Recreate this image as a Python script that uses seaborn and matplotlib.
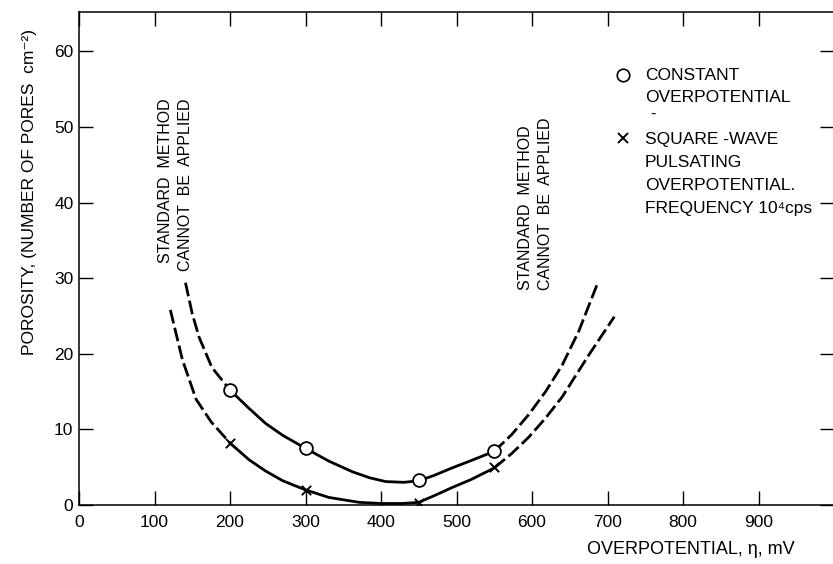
import matplotlib
matplotlib.use('Agg')
import matplotlib.pyplot as plt
import seaborn as sns
import pandas as pd

#########################
#         Data          #
#########################

# measured points
eta_points = [200, 300, 450, 550]
constant_points = [15.2, 7.6, 3.3, 7.1]
square_wave_points = [8.2, 2.0, 0.3, 5.0]

# constant overpotential curve (dashed / solid / dashed)
const_left_x = [141, 150, 159, 176, 200]
const_left_y = [29.4, 25.3, 22.2, 18.2, 15.2]
const_mid_x = [200, 225, 247, 270, 300, 331, 362, 385, 406, 430, 450, 470, 494, 520, 550]
const_mid_y = [15.2, 12.8, 10.8, 9.2, 7.5, 5.8, 4.4, 3.6, 3.1, 3.0, 3.2, 3.9, 4.9, 5.9, 7.1]
const_right_x = [550, 573, 596, 618, 640, 662, 686]
const_right_y = [7.1, 9.3, 12.0, 15.0, 18.5, 23.0, 29.1]

# square-wave pulsating overpotential curve
sq_left_x = [121, 137, 155, 175, 200]
sq_left_y = [25.8, 19.2, 14.0, 11.0, 8.2]
sq_mid_x = [200, 225, 247, 270, 300, 331, 371, 400, 428, 450, 472, 494, 520, 550]
sq_mid_y = [8.2, 6.0, 4.5, 3.2, 2.0, 1.0, 0.35, 0.2, 0.2, 0.35, 1.3, 2.3, 3.4, 4.9]
sq_right_x = [550, 573, 596, 618, 640, 675, 709]
sq_right_y = [4.9, 6.8, 9.0, 11.5, 14.3, 19.8, 24.9]

x_ticks = [0, 100, 200, 300, 400, 500, 600, 700, 800, 900]
y_ticks = [0, 10, 20, 30, 40, 50, 60]

#########################
#        Plotting       #
#########################

sns.set_theme(style='ticks')
plt.rcParams['font.family'] = ['Liberation Sans', 'DejaVu Sans']
plt.rcParams['text.color'] = 'black'

fig = plt.figure(figsize=(8.33, 5.64), dpi=100)
ax = fig.add_axes([79 / 833, 59 / 564, 755 / 833, 493 / 564])
ax.set_xlim(0, 1000)
ax.set_ylim(0, 65.2)

dash = (0, (5, 1.6))
segments = [
    (const_left_x, const_left_y, dash),
    (const_mid_x, const_mid_y, '-'),
    (const_right_x, const_right_y, dash),
    (sq_left_x, sq_left_y, dash),
    (sq_mid_x, sq_mid_y, '-'),
    (sq_right_x, sq_right_y, dash),
]
for xs, ys, ls in segments:
    seg = pd.DataFrame({'x': xs, 'y': ys})
    sns.lineplot(x='x', y='y', data=seg, sort=False, color='black', lw=2,
                 linestyle=ls, ax=ax)

df_pts = pd.DataFrame({'eta': eta_points, 'const': constant_points, 'square': square_wave_points})
sns.scatterplot(x='eta', y='const', data=df_pts, marker='o', s=85, facecolor='white',
                edgecolor='black', linewidth=1.3, zorder=5, ax=ax)
sns.scatterplot(x='eta', y='square', data=df_pts, marker='x', s=45, color='black',
                linewidth=1.4, zorder=5, ax=ax)

# axes styling
ax.set_xticks(x_ticks)
ax.set_yticks(y_ticks)
ax.tick_params(axis='both', direction='in', length=10, width=1, color='black',
               labelsize=12.5, labelcolor='black')
ax.tick_params(axis='x', top=True, pad=7)
ax.tick_params(axis='y', right=True, pad=4)
for sp in ax.spines.values():
    sp.set_visible(True)
    sp.set_color('black')
    sp.set_linewidth(1.1)
ax.set_xlabel('')
ax.set_ylabel('')


def px(x, y):
    # pixel position in the picture -> data coordinates
    return (x - 79) / 0.755, (505 - y) / 7.567


# axis labels
fig.text(30 / 833, 1 - 192 / 564, 'POROSITY, (NUMBER OF PORES  cm⁻²)', rotation=90,
         ha='center', va='center', fontsize=12.5)
fig.text(795 / 833, 1 - 550 / 564, 'OVERPOTENTIAL, η, mV', ha='right', va='center',
         fontsize=13)

# annotations
ax.text(*px(165, 98), 'STANDARD  METHOD', rotation=90, ha='center', va='top', fontsize=11.5)
ax.text(*px(186, 98), 'CANNOT  BE  APPLIED', rotation=90, ha='center', va='top', fontsize=11.5)
ax.text(*px(525, 290), 'STANDARD  METHOD', rotation=90, ha='center', va='bottom', fontsize=11.5)
ax.text(*px(545, 290), 'CANNOT  BE  APPLIED', rotation=90, ha='center', va='bottom', fontsize=11.5)

# legend drawn as text
ax.plot(*px(623, 75), marker='o', ms=9, mfc='white', mec='black', mew=1.2, clip_on=False)
ax.plot(*px(623, 138), marker='x', ms=7, color='black', mew=1.4, clip_on=False)
legend_lines = [
    ('CONSTANT', 75), ('OVERPOTENTIAL', 97), ('SQUARE -WAVE', 139),
    ('PULSATING', 162), ('OVERPOTENTIAL.', 185), ('FREQUENCY 10⁴cps', 208),
]
for txt, y in legend_lines:
    ax.text(*px(645, y), txt, ha='left', va='center', fontsize=12.5)
ax.text(*px(653, 114), '-', ha='center', va='center', fontsize=12)

plt.savefig('out.png', dpi=100)
